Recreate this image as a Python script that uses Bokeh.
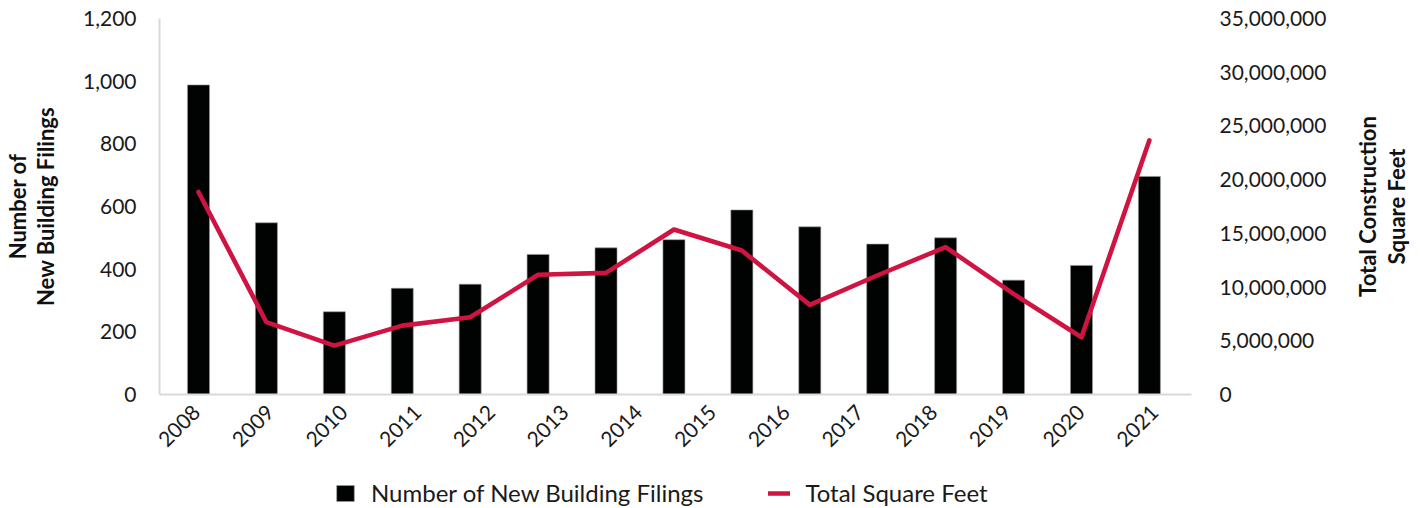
import math
from bokeh.plotting import figure
from bokeh.layouts import gridplot
from bokeh.models import (Range1d, LinearAxis, FixedTicker, NumeralTickFormatter,
                          Legend, LegendItem, ColumnDataSource)
from bokeh.embed import file_html
from bokeh.resources import INLINE

# ---- data ----
year_labels = ["2008", "2009", "2010", "2011", "2012", "2013", "2014",
               "2015", "2016", "2017", "2018", "2019", "2020", "2021"]
filings = [988, 548, 264, 339, 352, 447, 468, 494, 589, 535, 480, 500, 365, 412, 696]
square_feet = [18850000, 6730000, 4550000, 6410000, 7190000, 11140000, 11320000,
               15360000, 13400000, 8340000, 11100000, 13720000, 9370000, 5330000, 23660000]
series_names = ["Number of New Building Filings", "Total Square Feet"]
left_title = "Number of\nNew Building Filings"
right_title = "Total Construction\nSquare Feet"

pos = list(range(len(filings)))
src = ColumnDataSource(dict(x=pos, filings=filings, sqft=square_feet))

FONT = "Lato"
BAR_COLOR = "#010202"
LINE_COLOR = "#CF1442"
TXT = "#1a1a1a"
x_start, x_end = -0.574, 14.62


def strip_axes(f):
    f.xgrid.visible = False
    f.ygrid.visible = False
    f.outline_line_color = None
    f.background_fill_color = "white"
    f.border_fill_color = "white"


# ---- main chart ----
p = figure(frame_width=1032, frame_height=376, output_backend="svg", toolbar_location=None,
           x_range=Range1d(x_start, x_end), y_range=Range1d(0, 1200),
           min_border_left=153, min_border_right=160, min_border_top=18,
           min_border_bottom=70)
strip_axes(p)
p.extra_y_ranges = {"sqft": Range1d(0, 35000000)}

p.vbar(x="x", top="filings", width=0.324, source=src,
       fill_color=BAR_COLOR, line_color="#9a9a9a", line_width=0.6)
p.line(x="x", y="sqft", source=src, y_range_name="sqft",
       line_color=LINE_COLOR, line_width=4.6, line_join="round", line_cap="round")

# x axis: 14 labels spread evenly across the frame
n = len(year_labels)
step = (x_end - x_start) / n
ticks = [x_start + (i + 0.5) * step for i in range(n)]
xa = p.xaxis[0]
xa.ticker = FixedTicker(ticks=ticks)
xa.major_label_overrides = {t: lab for t, lab in zip(ticks, year_labels)}
xa.major_label_orientation = math.pi / 4
xa.axis_line_color = "#D9D9D9"
xa.axis_line_width = 2
xa.major_tick_line_color = None
xa.minor_tick_line_color = None
xa.major_label_text_font = FONT
xa.major_label_text_font_size = "21px"
xa.major_label_text_color = TXT
xa.major_label_standoff = 8

ya = p.yaxis[0]
ya.ticker = FixedTicker(ticks=list(range(0, 1201, 200)))
ya.formatter = NumeralTickFormatter(format="0,0")
ya.axis_line_color = "#D9D9D9"
ya.axis_line_width = 2
ya.major_tick_line_color = None
ya.minor_tick_line_color = None
ya.major_label_text_font = FONT
ya.major_label_text_font_size = "21px"
ya.major_label_text_color = TXT
ya.major_label_standoff = 17
ya.axis_label = left_title
ya.axis_label_text_font = FONT
ya.axis_label_text_font_style = "bold"
ya.axis_label_text_font_size = "22px"
ya.axis_label_text_line_height = 1.05
ya.axis_label_text_color = "#111111"
ya.axis_label_standoff = 21

ra = LinearAxis(y_range_name="sqft")
ra.ticker = FixedTicker(ticks=list(range(0, 35000001, 5000000)))
ra.formatter = NumeralTickFormatter(format="0,0")
ra.axis_line_color = None
ra.major_tick_line_color = None
ra.minor_tick_line_color = None
ra.major_label_text_font = FONT
ra.major_label_text_font_size = "21px"
ra.major_label_text_color = TXT
ra.major_label_standoff = 22
p.add_layout(ra, "right")

# ---- right-hand title strip (reads bottom-to-top, centred on the frame) ----
rf = figure(frame_width=4, frame_height=376, output_backend="svg", toolbar_location=None,
            x_range=Range1d(0, 1), y_range=Range1d(0, 1),
            x_axis_location=None, y_axis_location=None,
            min_border_left=55, min_border_right=0, min_border_top=18, min_border_bottom=70)
strip_axes(rf)
rt = LinearAxis(ticker=FixedTicker(ticks=[]))
rt.axis_line_color = None
rt.major_tick_line_color = None
rt.minor_tick_line_color = None
rt.axis_label = right_title
rt.axis_label_text_font = FONT
rt.axis_label_text_font_style = "bold"
rt.axis_label_text_font_size = "22px"
rt.axis_label_text_line_height = 1.05
rt.axis_label_text_color = "#111111"
rt.axis_label_standoff = 3
rf.add_layout(rt, "left")

# ---- legend strip below the chart (proxy renderers are hidden) ----
lg = figure(frame_width=1032, frame_height=47, output_backend="svg", toolbar_location=None,
            x_range=Range1d(-100, -99), y_range=Range1d(0, 1),
            x_axis_location=None, y_axis_location=None,
            min_border_left=153, min_border_right=160, min_border_top=0, min_border_bottom=0)
strip_axes(lg)
lg_bar = lg.vbar(x="x", top="filings", width=0.324, source=src,
                 fill_color=BAR_COLOR, line_color="#9a9a9a", line_width=0.6, visible=False)
lg_line = lg.line(x="x", y="sqft", source=src,
                  line_color=LINE_COLOR, line_width=4.6, line_cap="round", visible=False)
legend = Legend(items=[LegendItem(label=series_names[0], renderers=[lg_bar]),
                       LegendItem(label=series_names[1], renderers=[lg_line])],
                orientation="horizontal", location=(175, 4),
                label_text_font=FONT, label_text_font_size="24px",
                label_text_color=TXT, glyph_width=22, glyph_height=20,
                spacing=65, label_standoff=15, border_line_color=None,
                background_fill_alpha=0, margin=0, padding=0,
                inactive_fill_alpha=0)
lg.add_layout(legend, "center")

layout = gridplot([[p, rf], [lg, None]], toolbar_location=None)
open("out.html", "w").write(file_html(layout, INLINE))
